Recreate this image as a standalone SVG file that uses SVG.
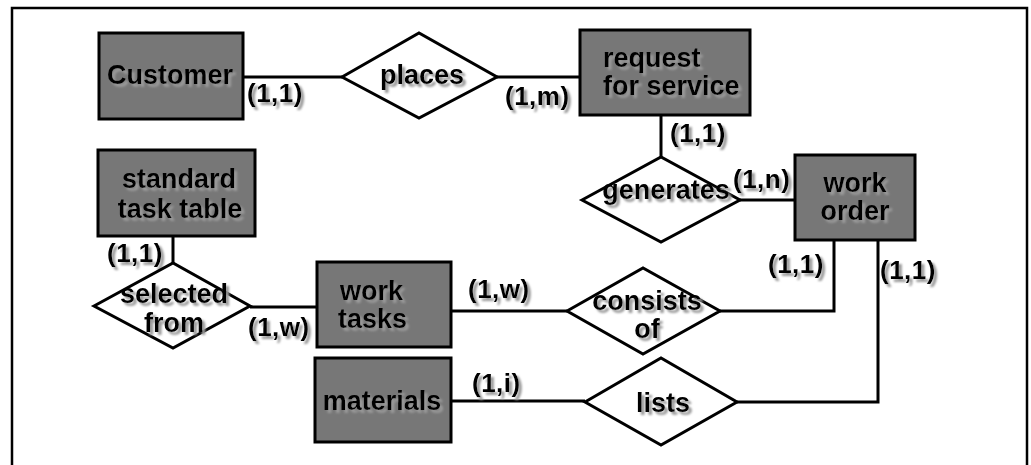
<svg xmlns="http://www.w3.org/2000/svg" width="1031" height="465" viewBox="0 0 1031 465">
<defs>
<filter id="sh" x="-20%" y="-30%" width="140%" height="160%">
<feGaussianBlur in="SourceAlpha" stdDeviation="1.2" result="b"/>
<feOffset in="b" dx="2.5" dy="2.5" result="o"/>
<feFlood flood-color="#9a9a9a" result="c"/>
<feComposite in="c" in2="o" operator="in" result="s"/>
<feMerge><feMergeNode in="s"/><feMergeNode in="SourceGraphic"/></feMerge>
</filter>
</defs>
<style>
.ent{fill:#777777;stroke:#000;stroke-width:3}
.rel{fill:#fff;stroke:#000;stroke-width:3;stroke-linejoin:miter}
.ln{fill:none;stroke:#000;stroke-width:3}
text{font-family:"Liberation Sans",Arial,sans-serif;font-weight:bold;fill:#000;filter:url(#sh)}
.t{font-size:27px}
.c{font-size:26px;letter-spacing:0.5px}
.m{text-anchor:middle}
</style>
<rect x="0" y="0" width="1031" height="465" fill="#fff"/>
<rect x="12" y="8" width="1015" height="470" fill="none" stroke="#000" stroke-width="2.5"/>

<g id="connectors">
<polyline class="ln" points="243,77 342,77"/>
<polyline class="ln" points="497,77 580,77"/>
<polyline class="ln" points="661,115 661,157"/>
<polyline class="ln" points="740,200 795,200"/>
<polyline class="ln" points="173,237 173,263"/>
<polyline class="ln" points="250,307 317,307"/>
<polyline class="ln" points="451,311 567,311"/>
<polyline class="ln" points="720,311 834,311 834,240"/>
<polyline class="ln" points="451,401 585,401"/>
<polyline class="ln" points="737,402 878,402 878,240"/>
<text class="c" x="247" y="102">(1,1)</text>
<text class="c" x="505" y="105">(1,m)</text>
<text class="c" x="670" y="142">(1,1)</text>
<text class="c" x="733" y="188">(1,n)</text>
<text class="c" x="768" y="273">(1,1)</text>
<text class="c" x="880" y="279">(1,1)</text>
<text class="c" x="107" y="262">(1,1)</text>
<text class="c" x="248" y="336">(1,w)</text>
<text class="c" x="468" y="298">(1,w)</text>
<text class="c" x="472" y="392">(1,i)</text>
</g>

<g id="customer">
<rect class="ent" x="99" y="33" width="144" height="86"/>
<text class="t m" x="170" y="84">Customer</text>
</g>
<g id="places">
<polygon class="rel" points="342,77 419,33 497,77 419,118"/>
<text class="t m" x="422" y="84">places</text>
</g>
<g id="request">
<rect class="ent" x="580" y="30" width="170" height="85"/>
<text class="t" x="603" y="67">request</text>
<text class="t" x="603" y="95">for service</text>
</g>
<g id="generates">
<polygon class="rel" points="582,200 661,157 740,200 661,242"/>
<text class="t m" x="666" y="199">generates</text>
</g>
<g id="work_order">
<rect class="ent" x="795" y="155" width="120" height="85"/>
<text class="t m" x="855" y="192">work</text>
<text class="t m" x="855" y="220">order</text>
</g>
<g id="standard_task_table">
<rect class="ent" x="98" y="150" width="157" height="86"/>
<text class="t m" x="179" y="188">standard</text>
<text class="t m" x="180" y="218">task table</text>
</g>
<g id="selected_from">
<polygon class="rel" points="94,306 173,263 250,306 173,348"/>
<text class="t m" x="174" y="303">selected</text>
<text class="t m" x="174" y="332">from</text>
</g>
<g id="work_tasks">
<rect class="ent" x="317" y="262" width="134" height="85"/>
<text class="t" x="340" y="300">work</text>
<text class="t" x="338" y="328">tasks</text>
</g>
<g id="consists_of">
<polygon class="rel" points="567,311 643,268 720,311 643,354"/>
<text class="t m" x="647" y="310">consists</text>
<text class="t m" x="647" y="338">of</text>
</g>
<g id="materials">
<rect class="ent" x="315" y="358" width="136" height="84"/>
<text class="t m" x="382" y="410">materials</text>
</g>
<g id="lists">
<polygon class="rel" points="585,402 661,358 737,402 661,445"/>
<text class="t m" x="663" y="412">lists</text>
</g>
</svg>
